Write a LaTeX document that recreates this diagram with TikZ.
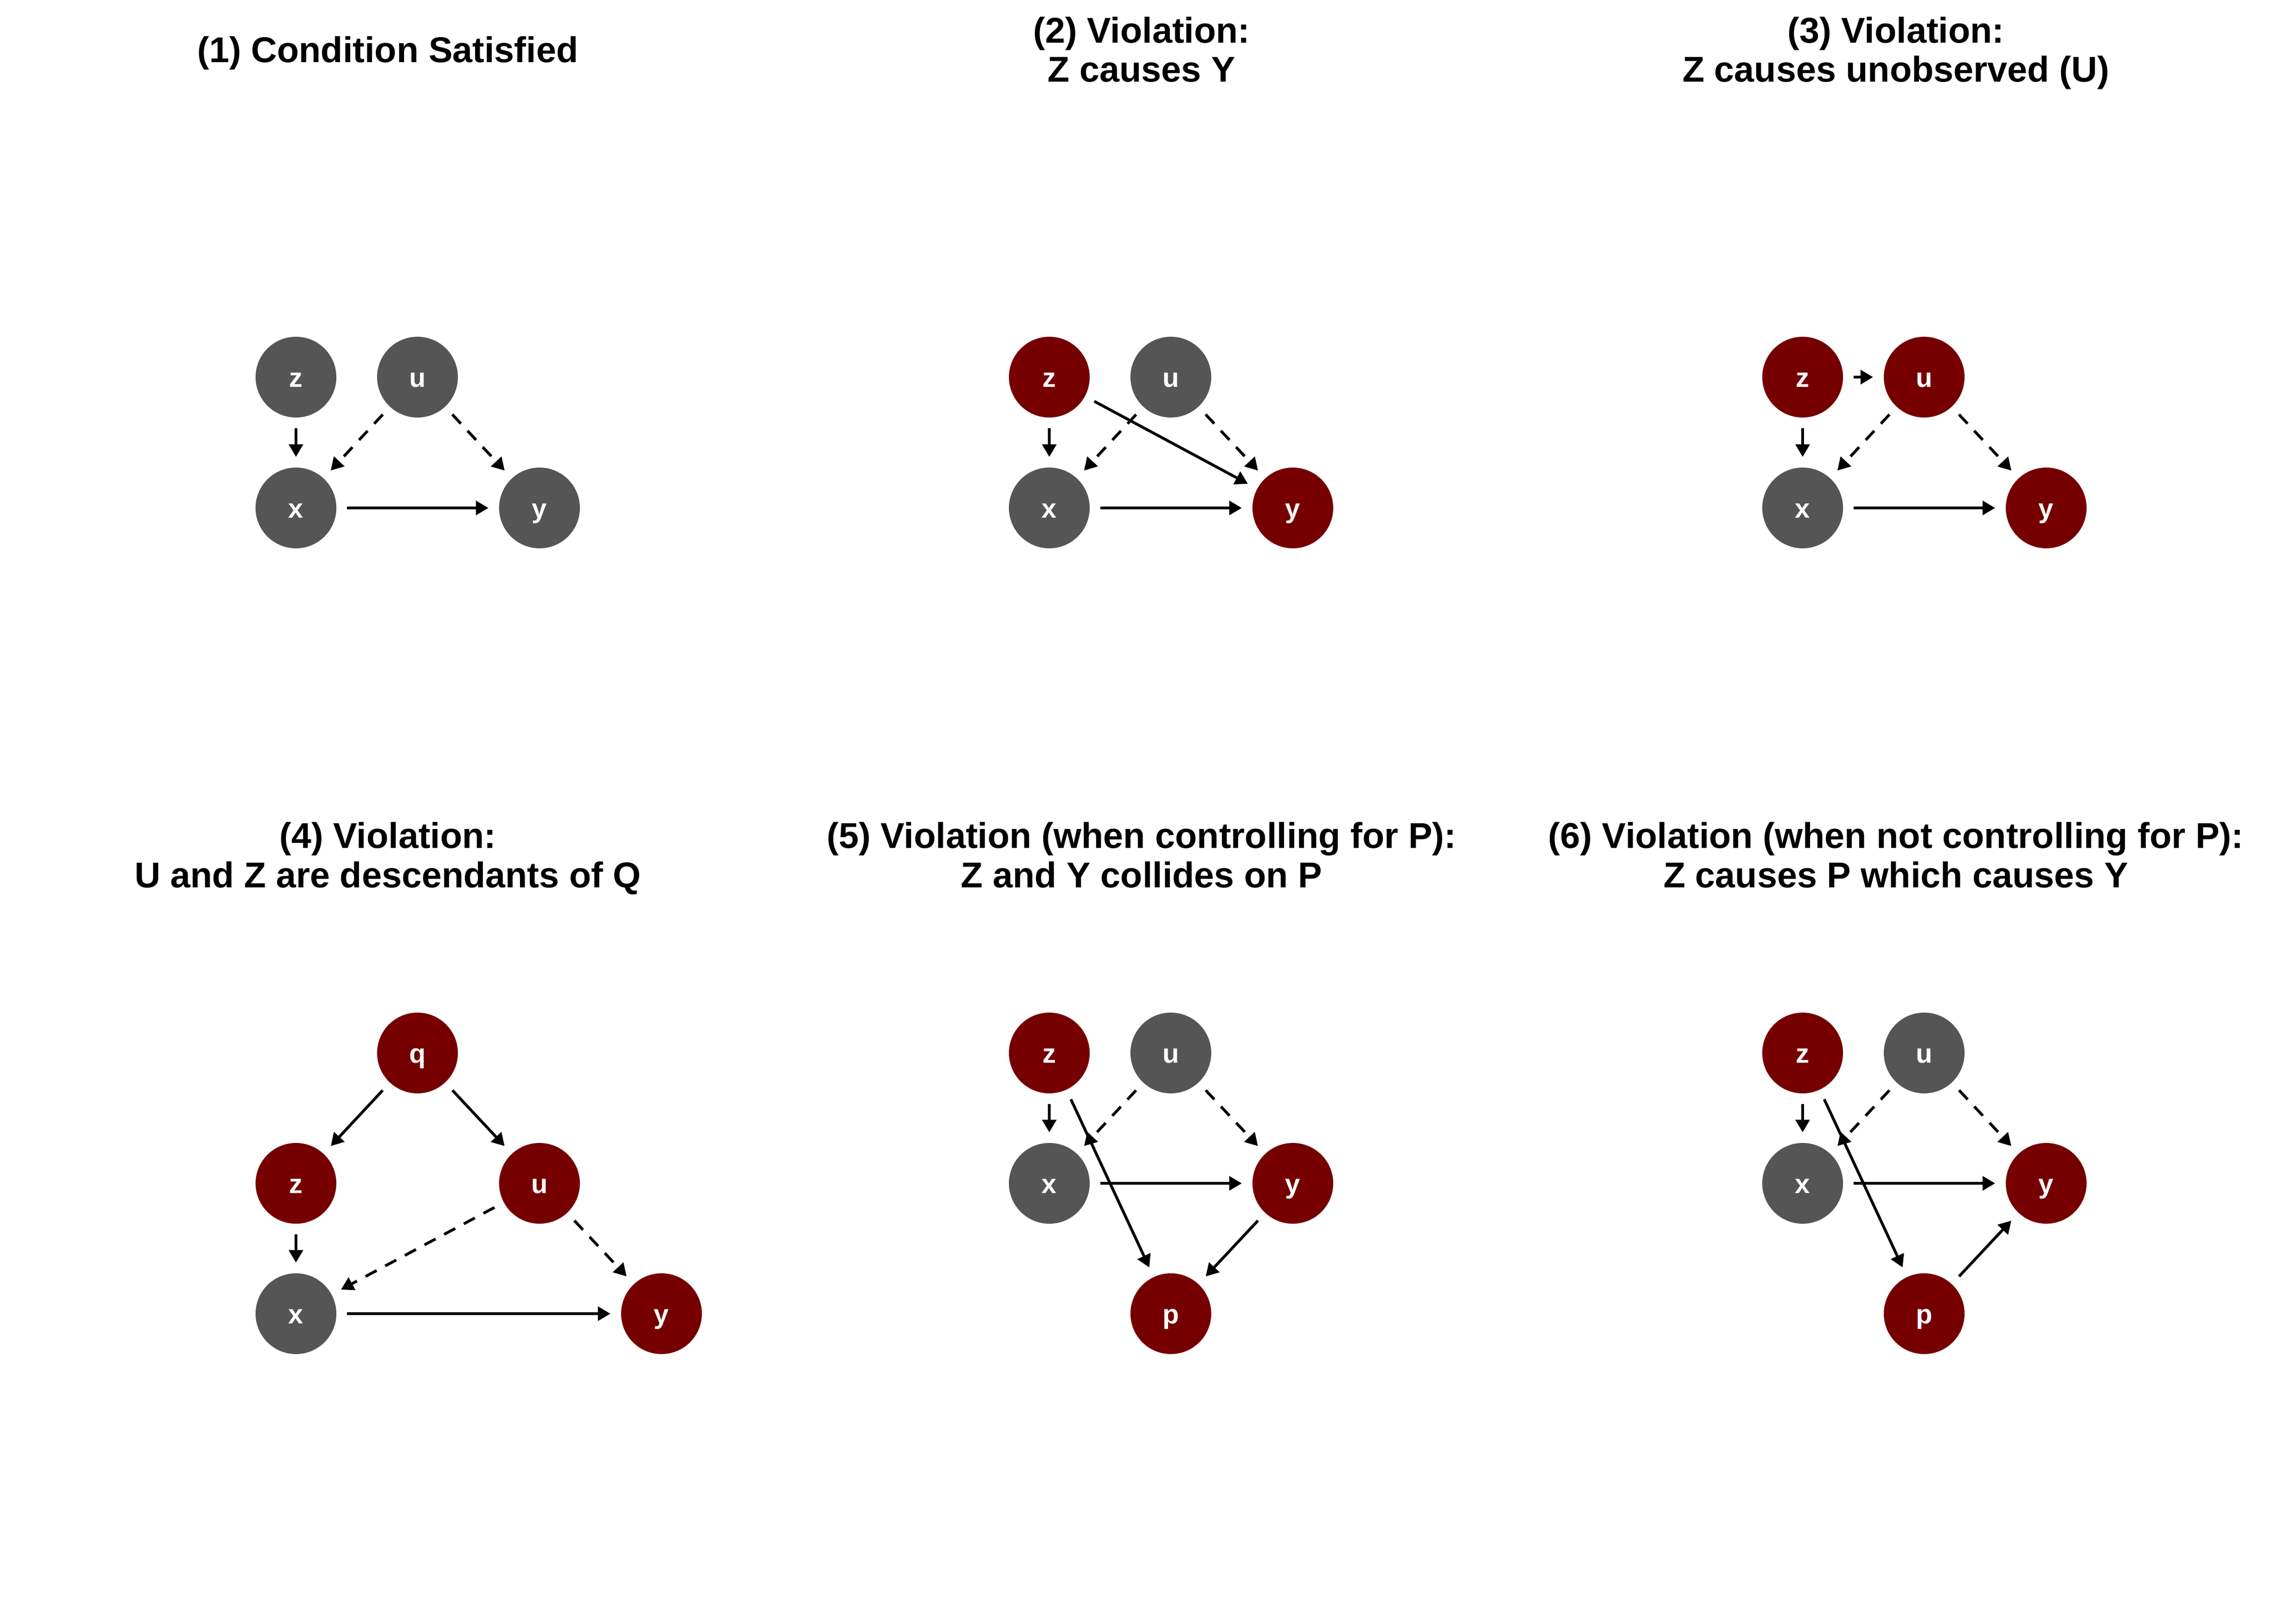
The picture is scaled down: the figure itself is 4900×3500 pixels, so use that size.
\documentclass[tikz,border=0pt]{standalone}
\usepackage{fontspec}
\setmainfont{Liberation Sans}
\usepackage{xcolor}
\usepackage{tikz}
\usetikzlibrary{arrows.meta}
\definecolor{nodegray}{RGB}{85,85,85}
\definecolor{hitred}{RGB}{118,0,0}

\begin{document}
\begin{tikzpicture}[x=0.01cm,y=-0.01cm,
		var/.style={circle,minimum size=1.74cm,inner sep=0pt,outer sep=0.23cm,fill=nodegray,text=white,font=\fontsize{16.5}{16.5}\selectfont\bfseries,text height=0.42cm,text depth=0cm},
		bad/.style={var,fill=hitred},
		cause/.style={-{Triangle[length=0.27cm,width=0.3cm]},line width=0.06cm},
		latent/.style={cause,dash pattern=on 0.27cm off 0.21cm},
		ttl/.style={anchor=base,font=\fontsize{22}{22}\selectfont\bfseries}]
		\useasboundingbox (0,0) rectangle (4900,3500);
		% (1) condition satisfied
		\node[ttl] (t1) at (836,135) {(1) Condition Satisfied};
		\node[var] (z1) at (638,813) {z};
		\node[var] (u1) at (900,813) {u};
		\node[var] (x1) at (638,1095) {x};
		\node[var] (y1) at (1163,1095) {y};
		\draw[cause] (z1) -- (x1);
		\draw[latent] (u1) -- (x1);
		\draw[latent] (u1) -- (y1);
		\draw[cause] (x1) -- (y1);
		% (2) z causes y
		\node[ttl] (t2) at (2461,93) {(2) Violation:};
		\node[ttl] (t2b) at (2461,177) {Z causes Y};
		\node[bad] (z2) at (2262,813) {z};
		\node[var] (u2) at (2524,813) {u};
		\node[var] (x2) at (2262,1095) {x};
		\node[bad] (y2) at (2787,1095) {y};
		\draw[cause] (z2) -- (x2);
		\draw[cause] (z2) -- (y2);
		\draw[latent] (u2) -- (x2);
		\draw[latent] (u2) -- (y2);
		\draw[cause] (x2) -- (y2);
		% (3) z causes u
		\node[ttl] (t3) at (4087,93) {(3) Violation:};
		\node[ttl] (t3b) at (4087,177) {Z causes unobserved (U)};
		\node[bad] (z3) at (3886,813) {z};
		\node[bad] (u3) at (4148,813) {u};
		\node[var] (x3) at (3886,1095) {x};
		\node[bad] (y3) at (4411,1095) {y};
		\draw[cause] (z3) -- (u3);
		\draw[cause] (z3) -- (x3);
		\draw[latent] (u3) -- (x3);
		\draw[latent] (u3) -- (y3);
		\draw[cause] (x3) -- (y3);
		% (4) common ancestor q
		\node[ttl] (t4) at (836,1828) {(4) Violation:};
		\node[ttl] (t4b) at (836,1913) {U and Z are descendants of Q};
		\node[bad] (q4) at (900,2270) {q};
		\node[bad] (z4) at (638,2551) {z};
		\node[bad] (u4) at (1163,2551) {u};
		\node[var] (x4) at (638,2832) {x};
		\node[bad] (y4) at (1426,2832) {y};
		\draw[cause] (q4) -- (z4);
		\draw[cause] (q4) -- (u4);
		\draw[cause] (z4) -- (x4);
		\draw[latent] (u4) -- (x4);
		\draw[latent] (u4) -- (y4);
		\draw[cause] (x4) -- (y4);
		% (5) collider p
		\node[ttl] (t5) at (2461,1828) {(5) Violation (when controlling for P):};
		\node[ttl] (t5b) at (2461,1913) {Z and Y collides on P};
		\node[bad] (z5) at (2262,2270) {z};
		\node[var] (u5) at (2524,2270) {u};
		\node[var] (x5) at (2262,2551) {x};
		\node[bad] (y5) at (2787,2551) {y};
		\node[bad] (p5) at (2524,2832) {p};
		\draw[cause] (z5) -- (x5);
		\draw[cause] (z5) -- (p5);
		\draw[latent] (u5) -- (x5);
		\draw[latent] (u5) -- (y5);
		\draw[cause] (x5) -- (y5);
		\draw[cause] (y5) -- (p5);
		% (6) mediator p
		\node[ttl] (t6) at (4087,1828) {(6) Violation (when not controlling for P):};
		\node[ttl] (t6b) at (4087,1913) {Z causes P which causes Y};
		\node[bad] (z6) at (3886,2270) {z};
		\node[var] (u6) at (4148,2270) {u};
		\node[var] (x6) at (3886,2551) {x};
		\node[bad] (y6) at (4411,2551) {y};
		\node[bad] (p6) at (4148,2832) {p};
		\draw[cause] (z6) -- (x6);
		\draw[cause] (z6) -- (p6);
		\draw[latent] (u6) -- (x6);
		\draw[latent] (u6) -- (y6);
		\draw[cause] (x6) -- (y6);
		\draw[cause] (p6) -- (y6);
	\end{tikzpicture}
\end{document}
